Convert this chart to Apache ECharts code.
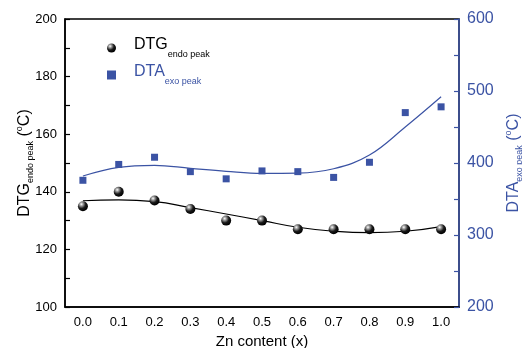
<!DOCTYPE html>
<html>
<head>
<meta charset="utf-8">
<script src="https://cdn.jsdelivr.net/npm/echarts@6/dist/echarts.min.js"></script>
<style>
  html, body { margin: 0; padding: 0; background: #fff; }
  #chart { width: 522px; height: 348px; }
</style>
</head>
<body>
<div id="chart"></div>
<script>
// Zn content (x)
var xLabels = ['0.0', '0.1', '0.2', '0.3', '0.4', '0.5', '0.6', '0.7', '0.8', '0.9', '1.0']
// measured peaks
var dtgEndo = [135, 140, 137, 134, 130, 130, 127, 127, 127, 127, 127]
var dtaExo = [376, 398, 408, 388, 378, 389, 388, 380, 401, 470, 478]
// fitted curves
var dtgFit = [136.9, 137.2, 136.6, 134.5, 132.3, 130, 127.7, 126.3, 125.8, 126.3, 127.9]
var dtaFit = [382, 394, 396.8, 392.6, 388.5, 385.7, 386, 392, 411, 450, 492]

var blue = '#3b53a4'
var font = 'Liberation Sans, Arial, sans-serif'

var chart = echarts.init(document.getElementById('chart'))

var sphere = new echarts.graphic.RadialGradient(0.35, 0.3, 0.7, [
  { offset: 0, color: '#ffffff' },
  { offset: 0.25, color: '#9a9a9a' },
  { offset: 0.6, color: '#1a1a1a' },
  { offset: 1, color: '#000000' }
])

chart.setOption({
  animation: false,
  grid: {
    left: 65,
    right: 63,
    top: 19,
    bottom: 41,
    outerBoundsMode: 'none',
    show: true,
    borderColor: '#000',
    borderWidth: 1.5
  },
  legend: {
    data: ['DTG', 'DTA'],
    orient: 'vertical',
    left: 107,
    top: 37,
    padding: 0,
    itemWidth: 9,
    itemHeight: 9,
    itemGap: 5,
    formatter: function(name) {
      return name === 'DTG' ? '{m|DTG}{s|endo peak}' : '{b|DTA}{t|exo peak}'
    },
    textStyle: {
      fontFamily: font,
      rich: {
        m: { fontSize: 16, color: '#000', fontFamily: font, verticalAlign: 'top', lineHeight: 22, padding: [0, 0, 0, 13] },
        s: { fontSize: 9, color: '#000', fontFamily: font, verticalAlign: 'bottom', lineHeight: 22 },
        b: { fontSize: 16, color: blue, fontFamily: font, verticalAlign: 'top', lineHeight: 22, padding: [0, 0, 0, 13] },
        t: { fontSize: 9, color: blue, fontFamily: font, verticalAlign: 'bottom', lineHeight: 22 }
      }
    }
  },
  xAxis: {
    type: 'category',
    data: xLabels,
    boundaryGap: true,
    name: 'Zn content (x)',
    nameLocation: 'middle',
    nameGap: 27,
    nameMoveOverlap: false,
    nameTextStyle: { fontSize: 15, color: '#000', fontFamily: font },
    axisLine: { lineStyle: { color: '#000', width: 1.5 } },
    axisTick: { alignWithLabel: true, inside: true, length: 5, lineStyle: { color: '#000', width: 1.2 } },
    axisLabel: { fontSize: 13, color: '#000', fontFamily: font, margin: 9 },
    splitLine: { show: false }
  },
  yAxis: [
    {
      type: 'value',
      min: 100,
      max: 200,
      interval: 20,
      name: '{m|DTG}{s|endo peak}{m| (}{p|o}{m|C)}',
      nameLocation: 'middle',
      nameGap: 30,
      nameRotate: 90,
      nameMoveOverlap: false,
      nameTextStyle: {
        fontFamily: font,
        rich: {
          m: { fontSize: 16, color: '#000', fontFamily: font },
          s: { fontSize: 9, color: '#000', fontFamily: font, padding: [12, 0, 0, 0] },
          p: { fontSize: 9, color: '#000', fontFamily: font, padding: [0, 0, 10, 0] }
        }
      },
      axisLine: { show: true, lineStyle: { color: '#000', width: 1.5 } },
      axisTick: { show: true, inside: true, length: 5, lineStyle: { color: '#000', width: 1.2 } },
      minorTick: { show: true, splitNumber: 2, length: 5, lineStyle: { color: '#000', width: 1.2 } },
      axisLabel: { fontSize: 13, color: '#000', fontFamily: font, margin: 8 },
      splitLine: { show: false }
    },
    {
      type: 'value',
      min: 200,
      max: 600,
      interval: 100,
      position: 'right',
      name: '{m|DTA}{s|exo peak}{m| (}{p|o}{m|C)}',
      nameLocation: 'middle',
      nameGap: 44,
      nameRotate: 90,
      nameMoveOverlap: false,
      nameTextStyle: {
        fontFamily: font,
        rich: {
          m: { fontSize: 16, color: blue, fontFamily: font },
          s: { fontSize: 9, color: blue, fontFamily: font, padding: [12, 0, 0, 0] },
          p: { fontSize: 9, color: blue, fontFamily: font, padding: [0, 0, 10, 0] }
        }
      },
      axisLine: { show: true, lineStyle: { color: blue, width: 1.5 } },
      axisTick: { show: true, inside: true, length: 5, lineStyle: { color: blue, width: 1.2 } },
      minorTick: { show: true, splitNumber: 2, length: 5, lineStyle: { color: blue, width: 1.2 } },
      axisLabel: { fontSize: 16, color: blue, fontFamily: font, margin: 8 },
      splitLine: { show: false }
    }
  ],
  series: [
    {
      name: 'DTG fit',
      type: 'line',
      yAxisIndex: 0,
      data: dtgFit,
      smooth: 0.5,
      symbol: 'none',
      lineStyle: { color: '#000', width: 1.2 },
      z: 2
    },
    {
      name: 'DTA fit',
      type: 'line',
      yAxisIndex: 1,
      data: dtaFit,
      smooth: 0.4,
      symbol: 'none',
      lineStyle: { color: blue, width: 1.2 },
      z: 2
    },
    {
      name: 'DTG',
      type: 'scatter',
      yAxisIndex: 0,
      data: dtgEndo,
      symbol: 'circle',
      symbolSize: 10,
      itemStyle: { color: sphere, opacity: 1 },
      z: 3
    },
    {
      name: 'DTA',
      type: 'scatter',
      yAxisIndex: 1,
      data: dtaExo,
      symbol: 'rect',
      symbolSize: 7,
      itemStyle: { color: blue, opacity: 1 },
      z: 3
    }
  ]
})
</script>
</body>
</html>
